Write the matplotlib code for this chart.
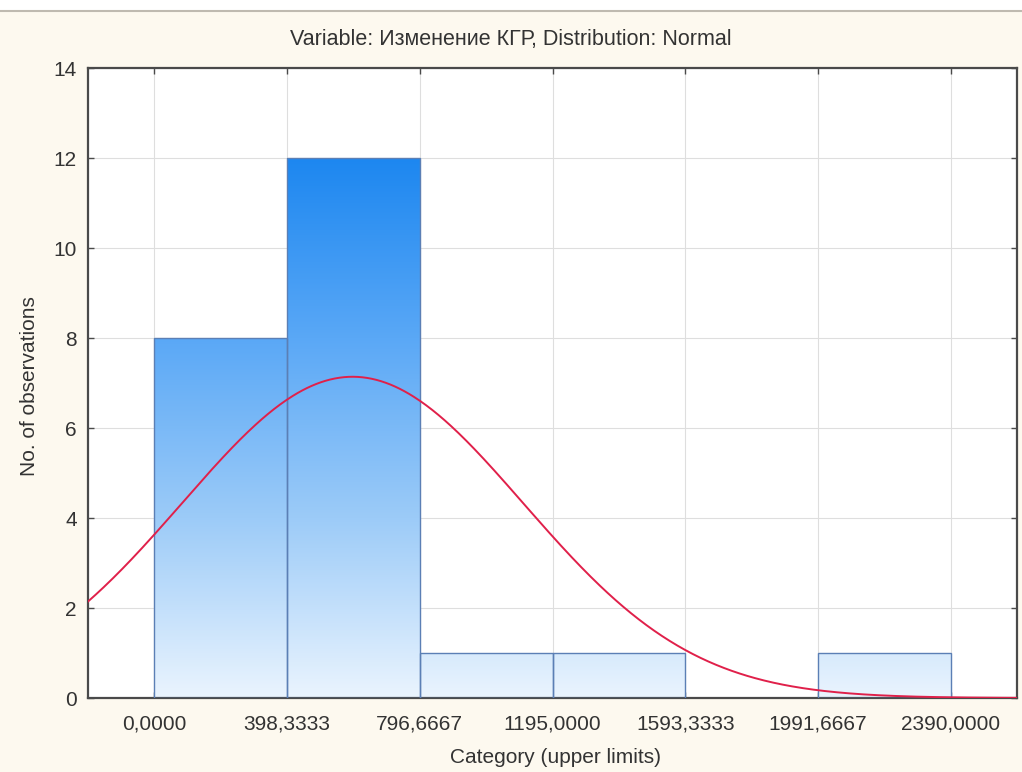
import numpy as np
import matplotlib
matplotlib.use("Agg")
import matplotlib.pyplot as plt
from matplotlib.colors import LinearSegmentedColormap
from matplotlib.patches import Rectangle
from matplotlib.lines import Line2D

plt.rcParams['font.family'] = ['Liberation Sans', 'DejaVu Sans']

# Histogram: upper limits of categories and counts per interval
upper_limits = [0.0, 398.3333, 796.6667, 1195.0, 1593.3333, 1991.6667, 2390.0]
tick_labels = ["0,0000", "398,3333", "796,6667", "1195,0000",
               "1593,3333", "1991,6667", "2390,0000"]
bin_left = [0.0, 398.3333, 796.6667, 1195.0, 1593.3333, 1991.6667]
counts = [8, 12, 1, 1, 0, 1]

# Fitted normal distribution parameters
fit_mean = 595.0
fit_sd = 512.0

bin_width = upper_limits[1] - upper_limits[0]
n_obs = sum(counts)

W, H = 1022, 772
fig = plt.figure(figsize=(W / 100, H / 100), dpi=100)
fig.patch.set_facecolor('#fdf9ef')
ax = fig.add_axes([88 / W, 74 / H, 929 / W, 630 / H])
ax.set_facecolor('white')

x_lo = upper_limits[0] - bin_width / 2
x_hi = upper_limits[-1] + bin_width / 2

ax.set_xticks(upper_limits)
ax.set_xticklabels(tick_labels)
ax.set_yticks(range(0, 15, 2))

ax.grid(True, color='#dedede', linewidth=0.8, zorder=0)
ax.set_axisbelow(True)

# Vertical gradient shared by all bars (light at zero, saturated at the top)
cmap = LinearSegmentedColormap.from_list(
    'bars', ['#eaf4fe', '#9ccbf8', '#5aa8f6', '#1d87f0'])
grad = np.linspace(0, 1, 256).reshape(-1, 1)
top = max(counts)
for left, c in zip(bin_left, counts):
    if c <= 0:
        continue
    rect = Rectangle((left, 0), bin_width, c, facecolor='none',
                     edgecolor='#5b7fb5', linewidth=1.0, zorder=3)
    ax.add_patch(rect)
    part = grad[: max(2, int(round(256 * c / top)))]
    img = ax.imshow(part, extent=(left, left + bin_width, 0, c), origin='lower',
                    aspect='auto', cmap=cmap, vmin=0, vmax=1, zorder=2,
                    interpolation='bilinear')
    img.set_clip_path(rect)

ax.set_xlim(x_lo, x_hi)
ax.set_ylim(0, 14)

# Expected frequencies under the fitted normal curve
xs = np.linspace(x_lo, x_hi, 600)
pdf = np.exp(-0.5 * ((xs - fit_mean) / fit_sd) ** 2) / (fit_sd * np.sqrt(2 * np.pi))
ax.plot(xs, n_obs * bin_width * pdf, color='#e0204a', linewidth=1.4, zorder=4)

for s in ax.spines.values():
    s.set_color('#4a4a4a')
    s.set_linewidth(1.6)
ax.tick_params(direction='in', length=4, width=1, color='#4a4a4a',
               top=True, right=True, labelsize=15, labelcolor='#333333')
ax.tick_params(axis='x', pad=12)
ax.tick_params(axis='y', pad=8)

text_kw = dict(color='#333333', fontsize=15)
fig.text(511 / W, 1 - 40 / H, "Variable: Изменение КГР, Distribution: Normal",
         ha='center', va='center', color='#333333', fontsize=15.5)
fig.text(556 / W, 1 - 763 / H, "Category (upper limits)",
         ha='center', va='baseline', **text_kw)
fig.text(30 / W, 1 - 386 / H, "No. of observations", rotation=90,
         ha='center', va='center', **text_kw)

# Window border across the top
fig.patches.append(Rectangle((0, 1 - 10 / H), 1, 10 / H, transform=fig.transFigure,
                             facecolor='white', edgecolor='none', zorder=0))
fig.lines.append(Line2D([0, 1], [1 - 11 / H, 1 - 11 / H], transform=fig.transFigure,
                        color='#bfbab0', linewidth=1.5))

fig.savefig('out.png', dpi=100, facecolor=fig.get_facecolor())
